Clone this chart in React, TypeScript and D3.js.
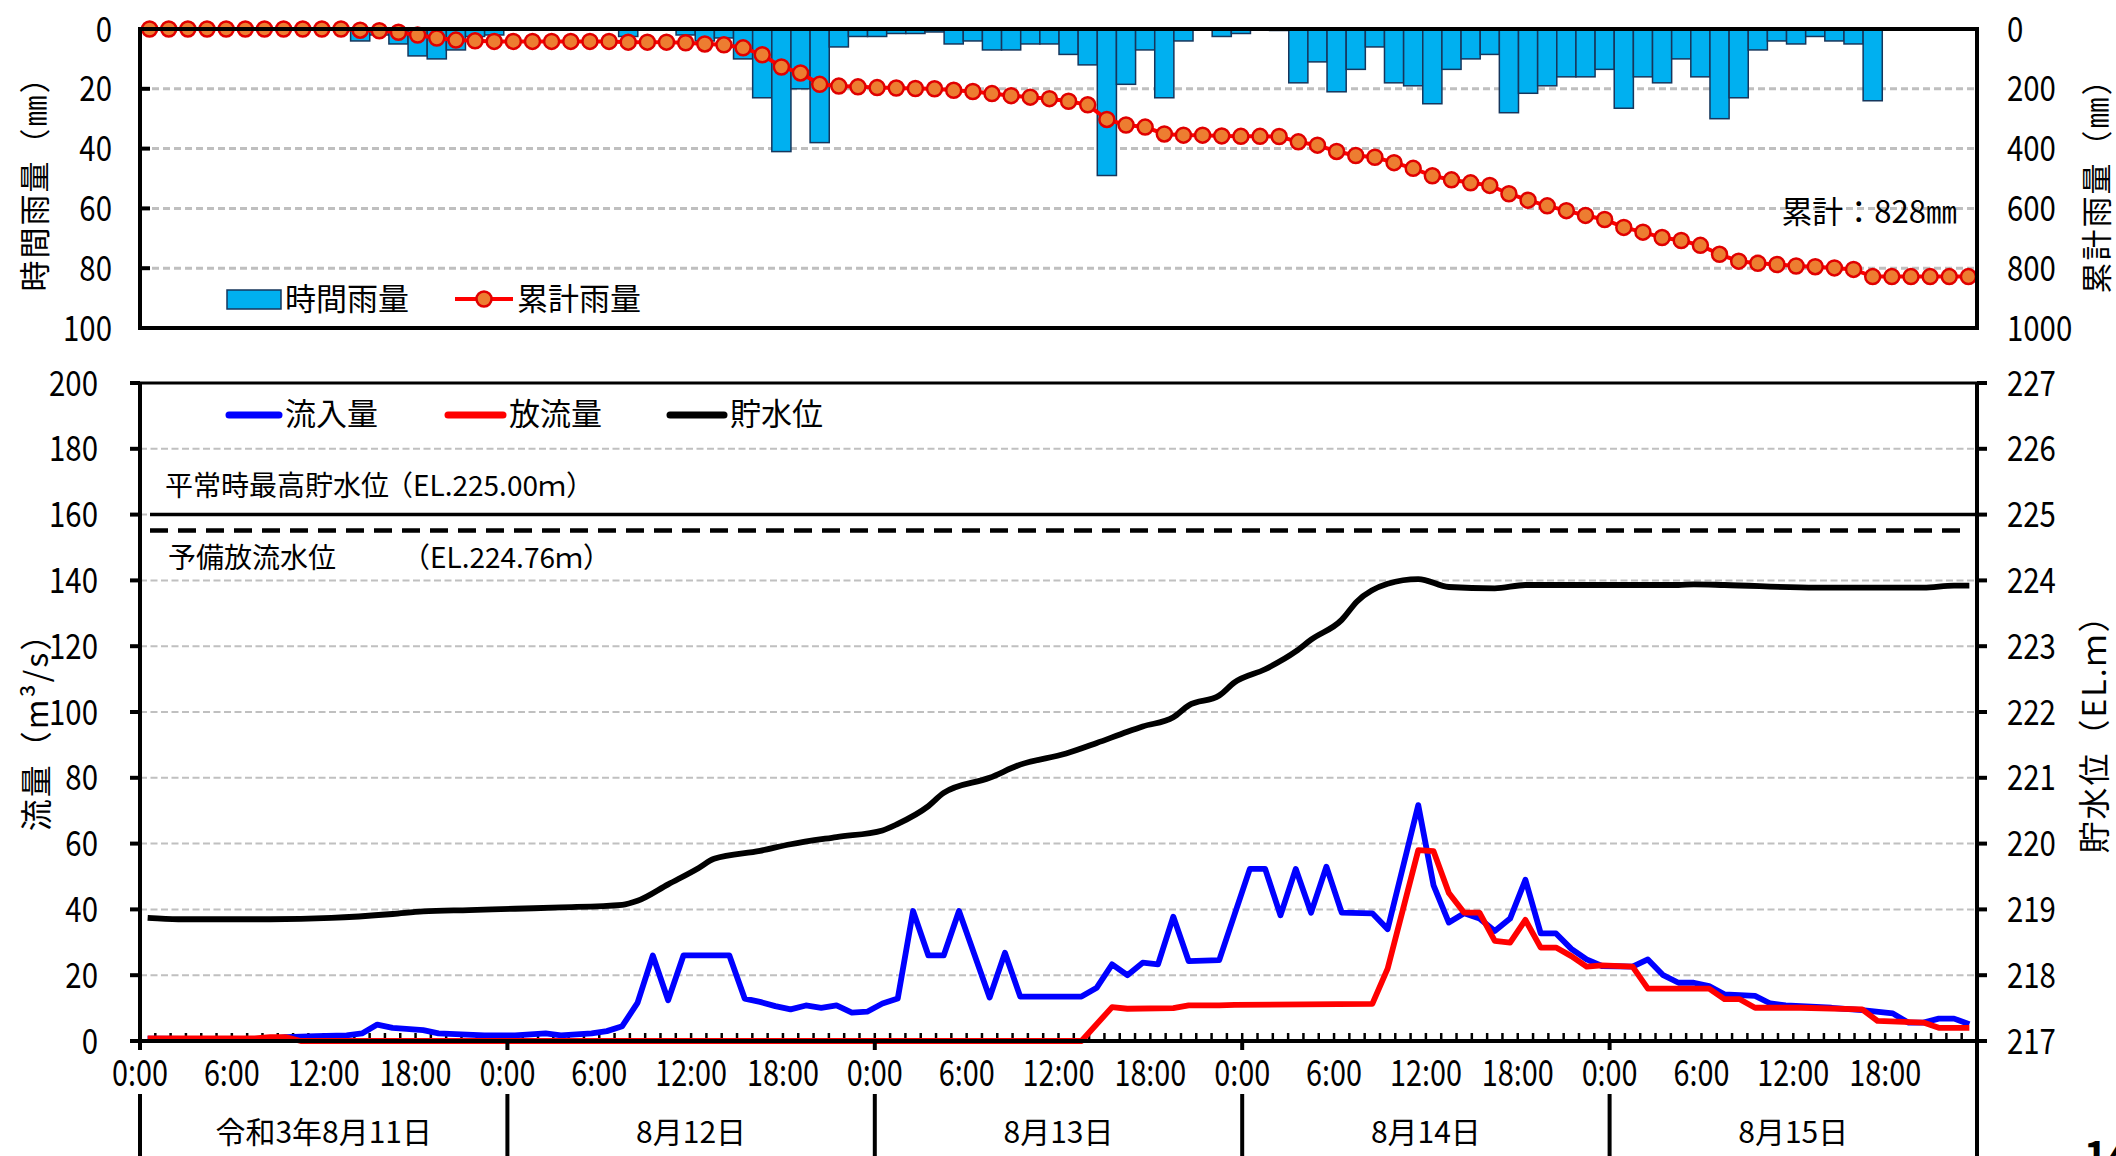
import * as d3 from "d3";

const W = 2116;
const H = 1156;
const FONT = '"Noto Sans CJK JP", "Noto Sans", sans-serif';

// 時間雨量 (mm), 96 hourly values
const hourlyRain = [
  0, 0, 0, 0, 0, 0, 0, 0, 0, 0, 0, 4, 2, 5, 9, 10, 7, 2.5, 2, 0,
  0, 0, 0, 0, 0, 2.5, 0, 0, 2, 4, 3, 10, 23, 41, 20, 38, 6, 2.5, 2.5, 1.5,
  1.5, 1, 5, 4, 7, 7, 5, 5, 8.5, 12, 49, 18.5, 7, 23, 4, 0, 2.5, 1.5, 0, 0.5,
  18, 11, 21, 13.5, 6, 18, 19, 25, 13.5, 10, 8.5, 28, 21.5, 19, 16, 16, 13.5, 26.5, 16, 18,
  10, 16, 30, 23, 7, 4, 5, 2.5, 4, 5, 24, 0, 0, 0, 0, 0,
];
const rainTicks = [0, 20, 40, 60, 80, 100];
const cumTicks = [0, 200, 400, 600, 800, 1000];

// 流入量 (m3/s): hour index -> value
const inflowHour = [
  0, 8, 9, 11, 13, 14, 15, 16, 18, 19, 22, 24, 26, 27, 29, 30, 31, 32, 33, 34,
  35, 38, 39, 40, 41, 42, 43, 44, 45, 46, 47, 48, 49, 50, 51, 52, 53, 55, 56, 57,
  61, 62, 63, 64, 65, 66, 67, 68, 70, 72, 73, 74, 75, 76, 77, 78, 80, 81, 83, 84,
  85, 86, 87, 88, 89, 90, 91, 92, 93, 94, 95, 97, 98, 99, 100, 101, 102, 103, 105, 106,
  107, 110, 112, 114, 115, 116, 117, 118, 119,
];
const inflow = [
  0.7, 0.5, 1.2, 1.5, 1.7, 2.3, 5, 4, 3.3, 2.3, 1.7, 1.7, 2.3, 1.7, 2.3, 3, 4.5, 11.6, 26, 12.4,
  26, 26, 12.9, 11.9, 10.6, 9.6, 10.8, 10.1, 10.8, 8.6, 8.9, 11.4, 12.9, 39.5, 26, 26, 39.5, 13.2, 26.8, 13.5,
  13.5, 16.2, 23.3, 20, 23.8, 23.3, 37.8, 24.3, 24.6, 52.3, 52.3, 38.2, 52.3, 39, 53, 39, 38.8, 34, 71.7, 47.3,
  36, 38.8, 37.2, 33.4, 37.2, 49, 32.7, 32.7, 28, 24.8, 22.8, 22.6, 24.8, 20, 17.7, 17.7, 16.7, 14.2, 13.7, 11.4,
  10.8, 10.1, 9.4, 8.4, 5.6, 5.6, 6.8, 6.8, 5.1,
];

// 放流量 (m3/s)
const outflowHour = [
  0, 7, 8, 9, 10, 61, 63, 64, 67, 68, 70, 71, 80, 81, 82, 83, 84, 85, 86, 87,
  88, 89, 90, 91, 92, 93, 94, 95, 97, 98, 102, 103, 104, 105, 108, 112, 113, 116, 117, 119,
];
const outflow = [
  0.8, 0.8, 1.2, 1.2, 0, 0, 10.3, 9.8, 10, 10.8, 10.8, 11, 11.3, 22, 40, 58, 57.7, 45, 39, 39,
  30.4, 29.9, 36.8, 28.4, 28.4, 25.8, 22.6, 23, 22.6, 15.9, 15.9, 12.7, 12.7, 10.1, 10.1, 9.6, 6.1, 5.6, 4, 4,
];

// 貯水位 (EL.m)
const levelHour = [
  0, 2, 8, 12, 16, 18, 21, 24, 27, 31, 32, 34, 36, 37, 40, 42, 45, 48, 49, 51,
  52, 55, 57, 60, 62, 64, 65, 67, 68, 70, 71, 73, 75, 76, 78, 79, 81, 83, 85, 88,
  90, 100, 101, 103, 109, 116, 118, 119,
];
const level = [
  218.87, 218.85, 218.85, 218.87, 218.93, 218.97, 218.99, 219.01, 219.03, 219.07,
  219.13, 219.38, 219.63, 219.77, 219.89, 219.99, 220.1, 220.2, 220.3, 220.57,
  220.77, 221.0, 221.2, 221.37, 221.53, 221.7, 221.78, 221.92, 222.1, 222.25,
  222.45, 222.65, 222.92, 223.1, 223.4, 223.68, 223.95, 224.02, 223.9, 223.88,
  223.93, 223.93, 223.94, 223.93, 223.89, 223.89, 223.92, 223.92,
];

const flowTicks = [0, 20, 40, 60, 80, 100, 120, 140, 160, 180, 200];
const levelTicks = [217, 218, 219, 220, 221, 222, 223, 224, 225, 226, 227];
const timeLabels = ["0:00", "6:00", "12:00", "18:00"];
const dayLabels = ["令和3年8月11日", "8月12日", "8月13日", "8月14日", "8月15日"];
const normalHighLevel = 225.0;
const reserveLevel = 224.76;

const PL = 140;
const PR = 1977;

const Num = ({ x, y, anchor, children, size = 35, sx = 0.84 }: any) => (
  <text
    transform={`translate(${x},${y}) scale(${sx},1)`}
    textAnchor={anchor}
    fontSize={size}
    dy="0.36em"
  >
    {children}
  </text>
);

export default function App() {
  // top panel
  const xBand = d3.scaleBand<number>().domain(d3.range(hourlyRain.length)).range([PL, PR + 1]);
  const yRain = d3.scaleLinear().domain([0, 100]).range([29, 328]);
  const yCum = d3.scaleLinear().domain([0, 1000]).range([29, 328]);
  const cum = Array.from(d3.cumsum(hourlyRain));
  const cx = (i: number) => xBand(i)! + xBand.bandwidth() / 2;
  const cumLine = d3.line<number>().x((_, i) => cx(i)).y((d) => yCum(d))(cum) || "";

  // bottom panel
  const xT = d3.scaleLinear().domain([0, 120]).range([PL, PR]);
  const yFlow = d3.scaleLinear().domain([0, 200]).range([1041, 383]);
  const yLev = d3.scaleLinear().domain([217, 227]).range([1041, 383]);
  const mk = (hs: number[], vs: number[], y: (v: number) => number, curve = d3.curveLinear) =>
    d3.line<number>().x((h) => xT(h + 0.5)).y((_, i) => y(vs[i])).curve(curve)(hs) || "";
  const inPath = mk(inflowHour, inflow, yFlow);
  const outPath = mk(outflowHour, outflow, yFlow);
  const levPath = mk(levelHour, level, yLev, d3.curveMonotoneX);

  const days = d3.range(dayLabels.length);
  const hours = d3.range(1, 120);

  return (
    <svg
      width={W}
      height={H}
      style={{ position: "absolute", left: 0, top: 0, background: "#fff" }}
      fontFamily={FONT}
      fill="#000"
    >
      {/* ===== top: rainfall ===== */}
      {rainTicks.slice(1, -1).map((t) => (
        <line key={"rg" + t} x1={PL + 12} x2={PR} y1={yRain(t)} y2={yRain(t)}
          stroke="#bfbfbf" strokeWidth={3} strokeDasharray="7 4" />
      ))}
      {hourlyRain.map((v, i) =>
        v > 0 ? (
          <rect key={"b" + i} x={xBand(i)} y={yRain(0)} width={xBand.bandwidth()}
            height={yRain(v) - yRain(0)} fill="#00b0f0" stroke="#16365c" strokeWidth={1.5} />
        ) : null
      )}
      <path d={cumLine} fill="none" stroke="#ff0000" strokeWidth={4} />
      {cum.map((d, i) => (
        <circle key={"c" + i} cx={cx(i)} cy={yCum(d)} r={7.5} fill="#ed7d31" stroke="#e00000" strokeWidth={2.5} />
      ))}
      <rect x={PL} y={yRain(0)} width={PR - PL} height={yRain(100) - yRain(0)}
        fill="none" stroke="#000" strokeWidth={4} />
      {rainTicks.slice(1, -1).map((t) => (
        <line key={"rt" + t} x1={PL} x2={PL + 10} y1={yRain(t)} y2={yRain(t)} stroke="#000" strokeWidth={4} />
      ))}
      {rainTicks.map((t) => (
        <Num key={"rl" + t} x={112} y={yRain(t)} anchor="end">{t}</Num>
      ))}
      {cumTicks.map((t) => (
        <Num key={"cl" + t} x={2007} y={yCum(t)} anchor="start">{t}</Num>
      ))}
      <text transform="translate(35,176) rotate(-90)" textAnchor="middle" fontSize={31} letterSpacing={2} dy="0.36em">
        時間雨量（㎜）
      </text>
      <text transform="translate(2097,178) rotate(-90)" textAnchor="middle" fontSize={31} letterSpacing={2} dy="0.36em">
        累計雨量（㎜）
      </text>
      <text x={1957} y={212} textAnchor="end" fontSize={31} dy="0.36em">累計：828㎜</text>

      {/* top legend */}
      <rect x={227} y={290} width={54} height={19} fill="#00b0f0" stroke="#16365c" strokeWidth={1.5} />
      <text x={285} y={299} fontSize={31} dy="0.36em">時間雨量</text>
      <line x1={455} x2={513} y1={299} y2={299} stroke="#ff0000" strokeWidth={4} />
      <circle cx={484} cy={299} r={7.5} fill="#ed7d31" stroke="#e00000" strokeWidth={2.5} />
      <text x={517} y={299} fontSize={31} dy="0.36em">累計雨量</text>

      {/* ===== bottom: flow / level ===== */}
      {flowTicks.slice(1, -1).map((t) => (
        <line key={"fg" + t} x1={PL} x2={PR} y1={yFlow(t)} y2={yFlow(t)}
          stroke="#c0c0c0" strokeWidth={2} strokeDasharray="7 3.5" />
      ))}
      <line x1={150} x2={PR} y1={yLev(normalHighLevel)} y2={yLev(normalHighLevel)} stroke="#000" strokeWidth={3.5} />
      <line x1={150} x2={1966} y1={yLev(reserveLevel)} y2={yLev(reserveLevel)} stroke="#000"
        strokeWidth={4.5} strokeDasharray="18 10" />
      <text x={165} y={yLev(normalHighLevel) - 29} fontSize={28} dy="0.36em">平常時最高貯水位</text>
      <text x={385} y={yLev(normalHighLevel) - 29} fontSize={28} dy="0.36em">（EL.225.00ｍ）</text>
      <text x={168} y={yLev(reserveLevel) + 28} fontSize={28} dy="0.36em">予備放流水位</text>
      <text x={402} y={yLev(reserveLevel) + 28} fontSize={28} dy="0.36em">（EL.224.76ｍ）</text>

      {/* hourly minor ticks */}
      {hours.map((h) => (
        <line key={"mt" + h} x1={xT(h)} x2={xT(h)} y1={yFlow(0)} y2={yFlow(0) - 8} stroke="#000" strokeWidth={2.5} />
      ))}

      <path d={inPath} fill="none" stroke="#0000ff" strokeWidth={5.8} strokeLinejoin="round" />
      <path d={outPath} fill="none" stroke="#ff0000" strokeWidth={5.8} strokeLinejoin="round" />
      <path d={levPath} fill="none" stroke="#000" strokeWidth={5.8} strokeLinejoin="round" />

      {/* frame */}
      <line x1={PL} x2={PR} y1={yFlow(200)} y2={yFlow(200)} stroke="#000" strokeWidth={3} />
      <line x1={PL} x2={PR} y1={yFlow(0)} y2={yFlow(0)} stroke="#000" strokeWidth={4} />
      <line x1={PL} x2={PL} y1={yFlow(200)} y2={yFlow(0) + 8} stroke="#000" strokeWidth={4} />
      <line x1={PR} x2={PR} y1={yFlow(200)} y2={H} stroke="#000" strokeWidth={4} />
      {flowTicks.map((t) => (
        <line key={"ft" + t} x1={PL - 10} x2={PL} y1={yFlow(t)} y2={yFlow(t)} stroke="#000" strokeWidth={4} />
      ))}
      {levelTicks.map((t) => (
        <line key={"lt" + t} x1={PR} x2={PR + 10} y1={yLev(t)} y2={yLev(t)} stroke="#000" strokeWidth={4} />
      ))}
      {flowTicks.map((t) => (
        <Num key={"fl" + t} x={98} y={yFlow(t)} anchor="end">{t}</Num>
      ))}
      {levelTicks.map((t) => (
        <Num key={"ll" + t} x={2007} y={yLev(t)} anchor="start">{t}</Num>
      ))}
      <text transform="translate(36,724) rotate(-90)" textAnchor="middle" fontSize={32} letterSpacing={2} dy="0.36em">
        流量（m³/s）
      </text>
      <text transform="translate(2094,726) rotate(-90)" textAnchor="middle" fontSize={32} letterSpacing={2} dy="0.36em">
        貯水位（EL.ｍ）
      </text>

      {/* time axis */}
      {days.map((d) =>
        timeLabels.map((lab, j) => (
          <Num key={"tl" + d + j} x={xT(d * 24 + j * 6)} y={1073} anchor="middle" size={36} sx={0.8}>{lab}</Num>
        ))
      )}
      {days.map((d) => (
        <g key={"sep" + d}>
          <line x1={xT(d * 24)} x2={xT(d * 24)} y1={yFlow(0)} y2={yFlow(0) + 9} stroke="#000" strokeWidth={4} />
          <line x1={xT(d * 24)} x2={xT(d * 24)} y1={1094} y2={H} stroke="#000" strokeWidth={4} />
        </g>
      ))}
      {dayLabels.map((lab, d) => (
        <text key={"dl" + d} x={xT(d * 24 + 12)} y={1132} textAnchor="middle" fontSize={30} dy="0.36em">
          {lab}
        </text>
      ))}

      {/* bottom legend */}
      <line x1={229} x2={279} y1={415} y2={415} stroke="#0000ff" strokeWidth={7} strokeLinecap="round" />
      <text x={285} y={414} fontSize={31} dy="0.36em">流入量</text>
      <line x1={448} x2={503} y1={415} y2={415} stroke="#ff0000" strokeWidth={7} strokeLinecap="round" />
      <text x={509} y={414} fontSize={31} dy="0.36em">放流量</text>
      <line x1={670} x2={724} y1={415} y2={415} stroke="#000" strokeWidth={7} strokeLinecap="round" />
      <text x={730} y={414} fontSize={31} dy="0.36em">貯水位</text>

      <text x={2084} y={1170} fontSize={40} fontWeight="bold">14</text>
    </svg>
  );
}
